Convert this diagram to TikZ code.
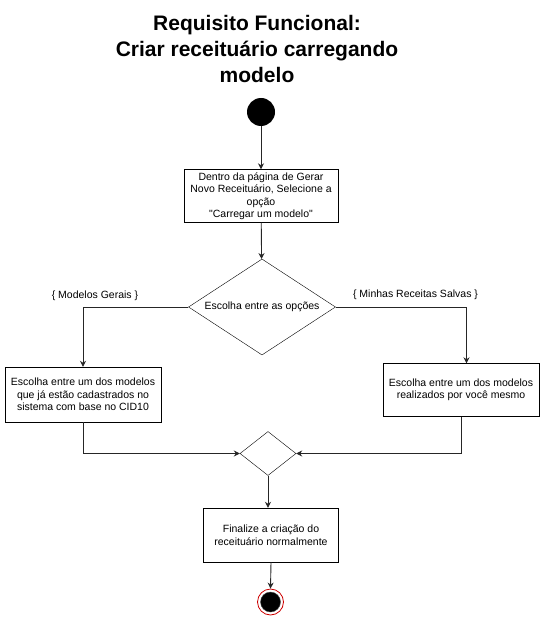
\documentclass[tikz,border=0pt]{standalone}
\usepackage{fontspec}
\setmainfont{Liberation Sans}
\usepackage{tikz}
\usetikzlibrary{shapes}
\usetikzlibrary{shapes.geometric}
\usetikzlibrary{arrows.meta}
\usetikzlibrary{calc}
\usetikzlibrary{positioning}

\tikzset{
	passo/.style={draw, rectangle, inner sep=0pt, align=center, font=\fontsize{10.5}{12.5}\selectfont},
	decisao/.style={draw, diamond, inner sep=0pt, font=\fontsize{10.5}{12.5}\selectfont},
	rotulo/.style={font=\fontsize{10.5}{12.5}\selectfont},
	seta/.style={draw=black!85, line width=0.9pt, -{Stealth[length=6pt, width=6pt]}},
	linha/.style={draw=black!85, line width=0.9pt}
}

\begin{document}
\begin{tikzpicture}[x=1pt, y=-1pt]
				% Fixar a area do desenho
				\useasboundingbox (0,0) rectangle (545,628);
				
				%% TITULO %%
				\node[align=center, font=\bfseries\fontsize{21}{26}\selectfont] (titulo) at (257, 49)
					{Requisito Funcional:\\Criar receituário carregando\\modelo};
				
				%% INICIO E PRIMEIRO PASSO %%
				% Circulo inicial
				\node[circle, fill=black, minimum size=28pt, inner sep=0pt] (inicio) at (261, 112) {};
				
				% Caixa da pagina de gerar receituario
				\node[passo, minimum width=154pt, minimum height=53pt] (pagina) at (261, 196)
					{Dentro da página de Gerar\\Novo Receituário, Selecione a\\opção\\\textquotedbl Carregar um modelo\textquotedbl};
				
				% Losango de escolha
				\node[decisao, aspect=1.53, minimum width=147pt, minimum height=96pt] (escolha) at (262, 307)
					{Escolha entre as opções};
				
				%% RAMOS DA ESCOLHA %%
				% Caixas dos dois ramos
				\node[passo, minimum width=156pt, minimum height=55pt] (gerais) at (83, 394.5)
					{Escolha entre um dos modelos\\que já estão cadastrados no\\sistema com base no CID10};
				\node[passo, minimum width=156pt, minimum height=53pt] (salvas) at (461, 390)
					{Escolha entre um dos modelos\\realizados por você mesmo};
				
				% Rotulos dos ramos
				\node[rotulo] (rotgerais) at (95, 296) {\{ Modelos Gerais \}};
				\node[rotulo] (rotsalvas) at (415.5, 295) {\{ Minhas Receitas Salvas \}};
				
				% Losango de juncao
				\node[draw, diamond, inner sep=0pt, aspect=1.27, minimum width=56pt, minimum height=44pt] (juncao) at (268, 453.5) {};
				
				%% FINAL %%
				\node[passo, minimum width=135pt, minimum height=54pt] (finalize) at (271, 535)
					{Finalize a criação do\\receituário normalmente};
				\node[circle, draw=red!80!black, fill=white, line width=0.8pt, minimum size=26pt, inner sep=0pt] (fim) at (270.5, 602) {};
				\node[circle, fill=black, draw=black!70, minimum size=20pt, inner sep=0pt] (fimdentro) at (fim) {};
				
				%% LIGACOES %%
				\coordinate (dirx) at (466.5, 0);
				\draw[seta] (inicio) -- (pagina);
				\draw[seta] (pagina) -- (escolha);
				\draw[seta] (escolha.west) -| (gerais.north);
				\draw[seta] (escolha.east) -| (dirx |- salvas.north);
				\draw[seta] (gerais.south) |- (juncao.west);
				\draw[seta] (salvas.south) |- (juncao.east);
				\draw[seta] (juncao.south) -- (juncao.south |- finalize.north);
				\draw[seta] (finalize.south) -- (fim.north);
\end{tikzpicture}
\end{document}
